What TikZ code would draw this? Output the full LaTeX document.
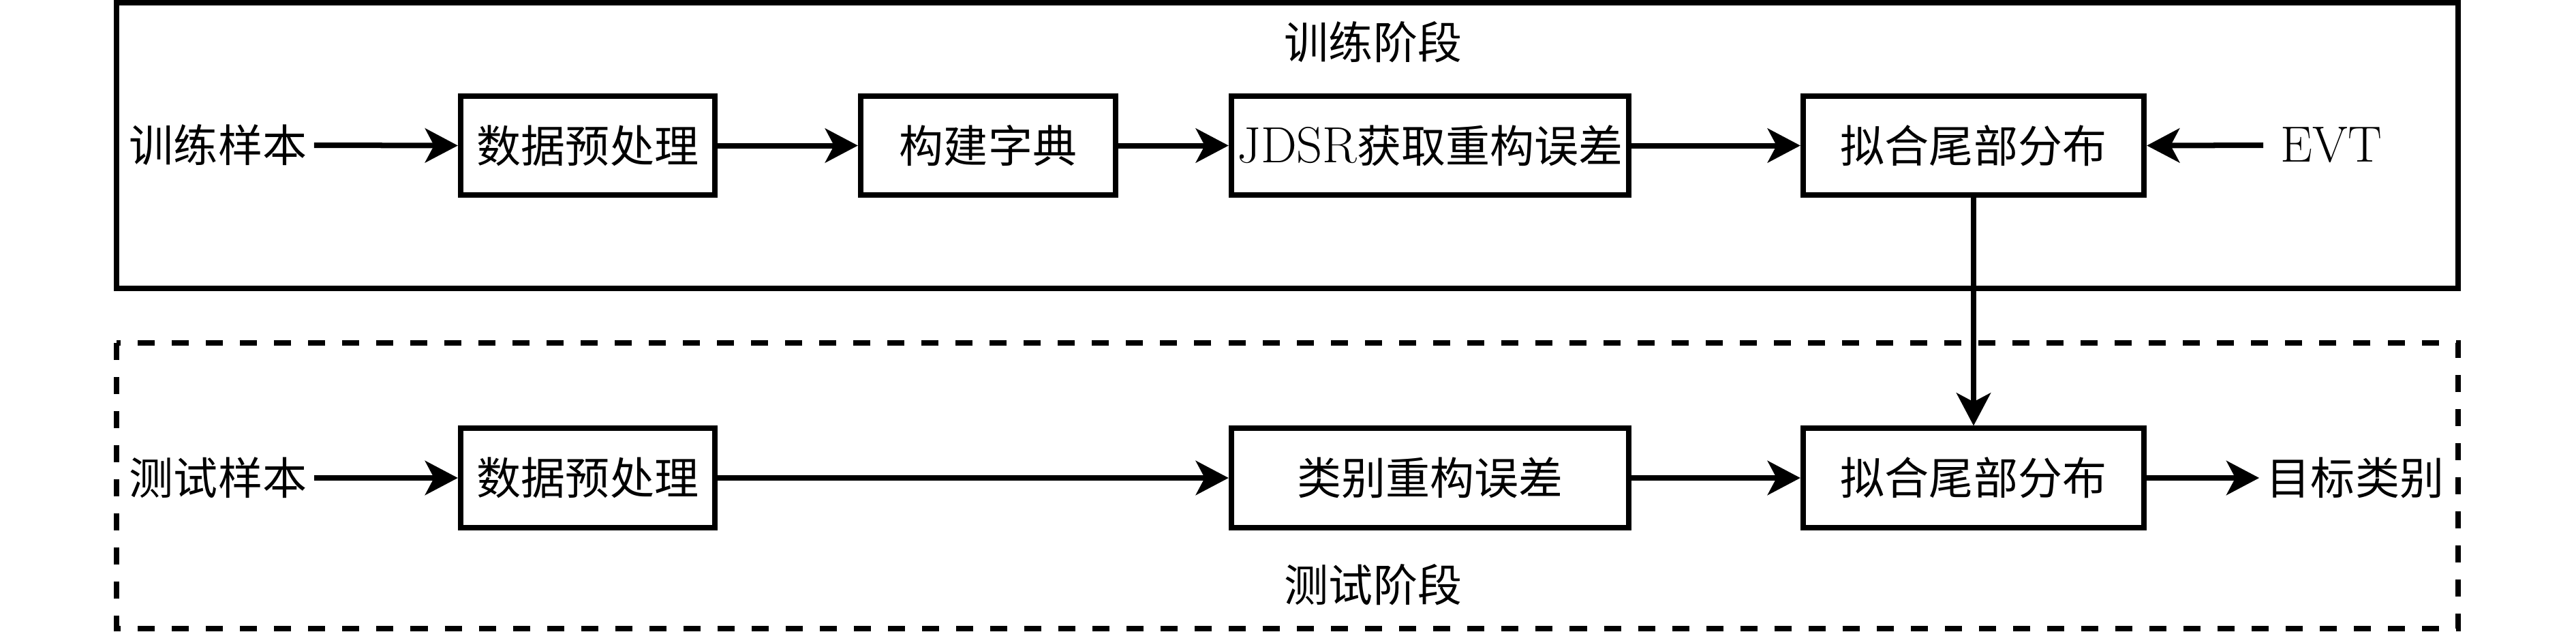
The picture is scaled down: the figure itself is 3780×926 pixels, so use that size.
\documentclass[tikz,border=0pt]{standalone}
\usepackage{fontspec}
\newfontfamily\cjk{Noto Sans CJK SC}
\newcommand{\lat}{\fontsize{21.2}{24}\selectfont}
\usetikzlibrary{arrows.meta}
\begin{document}
\begin{tikzpicture}[x=0.01cm,y=-0.01cm,
  every node/.style={font=\fontsize{18.5}{22}\selectfont},
  proc/.style={draw,line width=0.08cm,inner sep=0.03cm,minimum height=1.45cm},
  lbl/.style={inner sep=0.1cm},
  arr/.style={line width=0.08cm,-{Stealth[length=0.48cm,width=0.5cm,inset=0.13cm]}},
  frame/.style={line width=0.08cm}]
\useasboundingbox (0,0) rectangle (3780,926);
% frames
\draw[frame] (171,4) rectangle (3607,423);
\draw[frame,dash pattern=on 0.25cm off 0.25cm] (171,503) rectangle (3607,922);
\node[lbl] (train) at (2015,62) {\cjk 训练阶段};
\node[lbl] (test) at (2015,858) {\cjk 测试阶段};
% top row
\node[lbl] (s1) at (320,213) {\cjk 训练样本};
\node[proc,minimum width=3.73cm] (p1) at (862.5,213.5) {\cjk 数据预处理};
\node[proc,minimum width=3.74cm] (d1) at (1450,213.5) {\cjk 构建字典};
\node[proc,minimum width=5.83cm] (j1) at (2098.5,213.5) {{\lat JDSR}{\cjk 获取重构误差}};
\node[proc,minimum width=5.00cm] (f1) at (2896,213.5) {\cjk 拟合尾部分布};
\node[lbl] (evt) at (3421,213) {\lat EVT};
% bottom row
\node[lbl] (s2) at (320,701) {\cjk 测试样本};
\node[proc,minimum width=3.73cm] (p2) at (862.5,701) {\cjk 数据预处理};
\node[proc,minimum width=5.83cm] (c2) at (2098.5,701) {\cjk 类别重构误差};
\node[proc,minimum width=5.00cm] (f2) at (2896,701) {\cjk 拟合尾部分布};
\node[lbl] (t2) at (3456,701) {\cjk 目标类别};
% connectors
\draw[arr] (s1.east) -- (p1.west);
\draw[arr] (p1.east) -- (d1.west);
\draw[arr] (d1.east) -- (j1.west);
\draw[arr] (j1.east) -- (f1.west);
\draw[arr,shorten <=0.15cm] (evt.west) -- (f1.east);
\draw[arr] (f1.south) -- (f2.north);
\draw[arr] (s2.east) -- (p2.west);
\draw[arr] (p2.east) -- (c2.west);
\draw[arr] (c2.east) -- (f2.west);
\draw[arr] (f2.east) -- (t2.west);
\end{tikzpicture}
\end{document}
